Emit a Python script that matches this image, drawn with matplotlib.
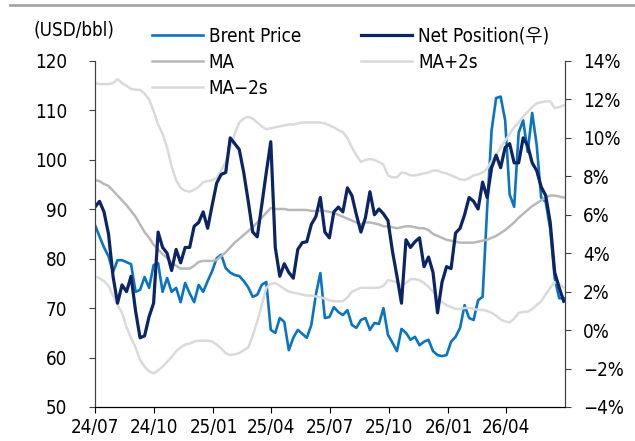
import numpy as np
import pandas as pd
import matplotlib
matplotlib.use("Agg")
import matplotlib.pyplot as plt
import matplotlib.dates as mdates
from matplotlib.lines import Line2D

plt.rcParams['font.family'] = ['DejaVu Sans', 'Noto Sans CJK KR']
plt.rcParams['font.stretch'] = 'condensed'

# weekly dates
dates = pd.date_range('2024-07-01', periods=105, freq='7D')

# Brent (USD/bbl), left axis
brent = [86.8, 84.5, 82.3, 80.5, 77.3, 79.7, 79.7, 79.3, 78.9, 73.3,
         73.7, 76.3, 74.1, 78.7, 79.1, 73.3, 76.1, 73.3, 74.1, 71.2,
         75.1, 73.0, 71.2, 74.7, 73.3, 75.5, 77.5, 80.1, 80.8, 78.1,
         77.2, 76.7, 76.5, 75.5, 74.2, 72.3, 72.7, 74.7, 75.3, 65.6,
         65.0, 68.0, 67.2, 61.5, 64.0, 65.6, 64.8, 64.0, 66.6, 72.7,
         77.1, 68.0, 68.2, 70.2, 69.2, 68.6, 69.6, 66.6, 66.0, 67.6,
         68.0, 65.6, 67.0, 66.8, 70.0, 64.6, 63.0, 61.3, 65.8, 65.0,
         63.6, 64.2, 62.5, 63.2, 63.6, 61.3, 60.5, 60.3, 60.5, 63.2,
         64.2, 66.0, 70.6, 68.0, 67.6, 71.6, 72.3, 90.0, 106.0, 112.5,
         112.8, 108.0, 93.0, 90.5, 105.5, 108.0, 101.6, 109.5, 103.0, 92.3,
         91.5, 86.0, 76.0, 72.0, 72.0]

# Net position (%), right axis
net_pos = [6.4, 6.7, 6.15, 5.0, 2.8, 1.4, 2.35, 2.0, 2.8, 1.0,
           -0.4, -0.3, 0.7, 1.4, 5.1, 4.3, 4.0, 3.1, 4.2, 3.5,
           4.3, 4.3, 5.4, 5.6, 6.15, 5.3, 6.5, 7.65, 8.1, 8.2,
           10.0, 9.7, 9.4, 8.2, 6.7, 5.1, 4.85, 6.5, 8.2, 9.8,
           4.3, 2.8, 3.45, 3.0, 2.7, 4.2, 4.55, 4.6, 5.5, 5.9,
           6.9, 5.1, 4.8, 6.15, 6.4, 6.15, 7.4, 7.0, 6.0, 5.1,
           5.85, 7.2, 6.0, 6.3, 6.05, 5.7, 4.1, 2.8, 1.4, 4.7,
           4.3, 4.6, 4.8, 3.3, 3.8, 3.0, 0.9, 2.5, 3.3, 3.2,
           5.05, 5.3, 6.0, 6.9, 6.7, 6.3, 7.7, 6.9, 8.45, 9.1,
           8.45, 9.5, 9.7, 8.7, 8.7, 10.0, 9.6, 8.7, 8.3, 7.45,
           7.0, 5.6, 3.0, 2.2, 1.5]

ma = [7.8, 7.75, 7.6, 7.5, 7.25, 7.0, 6.75, 6.5, 6.2, 5.9,
      5.5, 5.1, 4.8, 4.45, 4.2, 3.95, 3.75, 3.5, 3.35, 3.2,
      3.2, 3.2, 3.35, 3.55, 3.6, 3.6, 3.6, 3.65, 3.85, 4.05,
      4.3, 4.55, 4.75, 4.95, 5.15, 5.35, 5.6, 5.85, 6.1, 6.35,
      6.3, 6.3, 6.3, 6.25, 6.25, 6.25, 6.25, 6.25, 6.2, 6.2,
      6.2, 6.2, 6.15, 6.1, 6.0, 5.9, 5.8, 5.7, 5.6, 5.5,
      5.6, 5.6, 5.55, 5.5, 5.4, 5.4, 5.35, 5.3, 5.35, 5.4,
      5.4, 5.35, 5.3, 5.3, 5.2, 5.0, 4.9, 4.8, 4.7, 4.65,
      4.6, 4.55, 4.55, 4.55, 4.55, 4.6, 4.65, 4.7, 4.8, 4.9,
      5.05, 5.2, 5.4, 5.6, 5.85, 6.05, 6.25, 6.45, 6.6, 6.75,
      6.9, 7.0, 7.0, 6.95, 6.9]

ma_up = [12.85, 12.8, 12.8, 12.8, 12.85, 13.05, 12.85, 12.7, 12.55, 12.5,
         12.5, 12.3, 12.0, 11.4, 10.7, 10.2, 9.5, 8.5, 7.8, 7.4,
         7.25, 7.2, 7.3, 7.45, 7.7, 7.75, 7.8, 7.9, 8.3, 8.75,
         9.5, 10.2, 10.8, 11.0, 11.1, 11.0, 10.8, 10.6, 10.45, 10.5,
         10.55, 10.6, 10.65, 10.7, 10.7, 10.75, 10.8, 10.8, 10.8, 10.8,
         10.8, 10.75, 10.65, 10.55, 10.4, 10.3, 10.0, 9.5, 9.1, 8.75,
         8.85, 8.9, 8.85, 8.75, 8.6, 8.05, 7.95, 7.95, 8.2, 8.15,
         8.05, 8.05, 8.1, 8.15, 8.2, 8.3, 8.3, 8.2, 8.15, 8.05,
         7.95, 7.85, 7.8, 7.9, 8.05, 8.1, 8.2, 8.4, 8.8, 9.1,
         9.5, 9.85, 10.2, 10.55, 10.8, 11.1, 11.35, 11.6, 11.8, 11.85,
         11.9, 11.9, 11.55, 11.6, 11.7]

ma_dn = [2.8, 2.7, 2.55, 2.3, 1.8, 1.3, 0.9, 0.15, -0.4, -0.9,
         -1.55, -1.9, -2.15, -2.25, -2.1, -1.9, -1.65, -1.4, -1.1, -0.9,
         -0.75, -0.7, -0.6, -0.55, -0.55, -0.55, -0.6, -0.75, -0.95, -1.2,
         -1.3, -1.25, -1.2, -1.05, -0.9, -0.3, 0.45, 1.3, 2.2, 2.4,
         2.45, 2.3, 2.15, 2.0, 1.95, 1.9, 1.85, 1.8, 1.8, 1.75,
         1.7, 1.65, 1.55, 1.5, 1.5, 1.5, 1.7, 2.0, 2.1, 2.2,
         2.2, 2.2, 2.2, 2.2, 2.3, 2.6, 2.55, 2.5, 2.3, 2.45,
         2.65, 2.65, 2.6, 2.45, 2.25, 2.0, 1.7, 1.45, 1.3, 1.2,
         1.1, 1.1, 1.15, 1.15, 1.1, 1.05, 1.05, 1.0, 0.9, 0.75,
         0.55, 0.45, 0.4, 0.6, 0.9, 0.95, 0.95, 1.1, 1.3, 1.5,
         1.85, 2.2, 2.5, 2.4, 2.2]

x_ticks = pd.to_datetime(['2024-07-01', '2024-10-01', '2025-01-01', '2025-04-01',
                          '2025-07-01', '2025-10-01', '2026-01-01', '2026-04-01'])

c_brent = '#0a74c4'
c_net = '#0b2466'
c_ma = '#b8b8b8'
c_band = '#dadada'
fs = 13.5

fig = plt.figure(figsize=(6.35, 4.41), dpi=100)
ax = fig.add_axes([0.1496, 0.0771, 0.7402, 0.7846])
ax2 = ax.twinx()

l_brent, = ax.plot(dates, brent, color=c_brent, lw=1.9, label='Brent Price')
l_up, = ax2.plot(dates, ma_up, color=c_band, lw=1.8, label='MA+2s')
l_dn, = ax2.plot(dates, ma_dn, color=c_band, lw=1.8, label='MA\u22122s')
l_ma, = ax2.plot(dates, ma, color=c_ma, lw=1.8, label='MA')
l_net, = ax2.plot(dates, net_pos, color=c_net, lw=2.3, label='Net Position(우)')

ax.set_xlim(pd.Timestamp('2024-07-01'), pd.Timestamp('2026-07-01'))
ax.set_ylim(50, 120)
ax.set_yticks(range(50, 121, 10))
ax2.set_ylim(-4, 14)
ax2.set_yticks(range(-4, 15, 2))
ax2.set_yticklabels([f"{v}%".replace('-', '\u2212') for v in range(-4, 15, 2)])
ax.set_xticks(x_ticks)
ax.xaxis.set_major_formatter(mdates.DateFormatter('%y/%m'))

for a in (ax, ax2):
    a.spines['top'].set_visible(False)
    a.spines['left'].set_color('#404040')
    a.spines['right'].set_color('#404040')
    a.spines['bottom'].set_color('black')
ax.tick_params(axis='y', direction='out', length=4, pad=16, labelsize=fs, color='#404040')
ax2.tick_params(axis='y', direction='out', length=4, pad=9, labelsize=fs, color='#404040')
ax.tick_params(axis='x', direction='out', length=4, pad=4, labelsize=fs)

fig.text(0.052, 1 - 30 / 441, '(USD/bbl)', fontsize=fs, va='center', ha='left')

# thin gray rule across the top
fig.add_artist(Line2D([10 / 635, 1], [1 - 5 / 441, 1 - 5 / 441], color='#a6a6a6', lw=2))

fig.legend(handles=[l_brent, l_ma, l_dn, l_net, l_up], ncol=2, frameon=False,
           loc='upper left', bbox_to_anchor=(152 / 635, 1 - 27 / 441),
           fontsize=fs, handlelength=2.7, handletextpad=0.33, columnspacing=3.2,
           labelspacing=0.36, borderpad=0, borderaxespad=0)

fig.savefig('out.png', dpi=100)
